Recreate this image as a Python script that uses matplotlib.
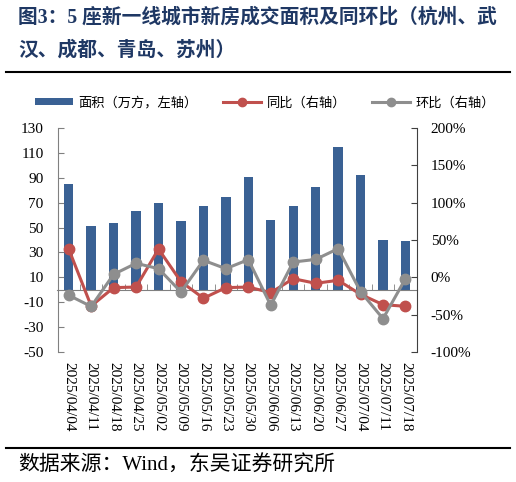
import matplotlib
matplotlib.use("Agg")
import matplotlib.pyplot as plt
from matplotlib.ticker import FuncFormatter, FixedLocator
from matplotlib.lines import Line2D
from matplotlib.patches import Patch

plt.rcParams['font.family'] = ['Liberation Serif', 'Noto Sans CJK SC', 'DejaVu Sans']

dates = ["2025/04/04", "2025/04/11", "2025/04/18", "2025/04/25", "2025/05/02",
         "2025/05/09", "2025/05/16", "2025/05/23", "2025/05/30", "2025/06/06",
         "2025/06/13", "2025/06/20", "2025/06/27", "2025/07/04", "2025/07/11",
         "2025/07/18"]
area = [85.2, 51.4, 53.3, 63.0, 69.7, 54.9, 67.0, 74.2, 91.0, 56.0,
        67.2, 82.8, 114.4, 91.9, 40.2, 39.1]
yoy = [37.9, -38.4, -13.8, -13.0, 37.9, -5.8, -28.0, -13.8, -13.0, -20.5,
       -1.8, -8.0, -4.0, -22.8, -36.6, -38.8]
mom = [-24.0, -39.0, 4.0, 18.8, 11.6, -19.6, 22.8, 11.6, 23.7, -37.5,
       20.5, 24.0, 38.4, -19.2, -55.4, -1.8]
left_ticks = list(range(-50, 131, 20))
right_ticks = [-100, -50, 0, 50, 100, 150, 200]

bar_color = "#3A6194"
red = "#C0504D"
gray = "#8E8E8E"

W, H = 516, 482
fig = plt.figure(figsize=(W / 100, H / 100), dpi=100)
ax = fig.add_axes([57.5 / W, 1 - 352 / H, (416.7 - 57.5) / W, 224 / H])
ax2 = ax.twinx()

# spine position first (it resets ticks)
ax.spines['bottom'].set_position(('data', 0))
ax.spines['bottom'].set_color('#808080')
ax.spines['left'].set_color('#808080')
ax.spines['top'].set_visible(False)
ax.spines['right'].set_visible(False)

x = list(range(len(dates)))
ax.bar(x, area, width=0.42, color=bar_color, zorder=2)
ax.set_xlim(-0.5, len(dates) - 0.5)
ax.set_ylim(-50, 130)
ax.set_yticks(left_ticks)
ax.set_yticklabels([str(v) for v in left_ticks], fontsize=11)
ax.set_xticks(x)
ax.set_xticklabels(dates, fontsize=11)
ax.xaxis.set_minor_locator(FixedLocator([i + 0.5 for i in range(len(dates) - 1)]))
ax.tick_params(axis='x', which='major', length=0, pad=52, labelrotation=270)
for lbl in ax.get_xticklabels():
    lbl.set_va('top')
    lbl.set_ha('center')
ax.tick_params(axis='x', which='minor', length=4, direction='in', color='#808080')
ax.tick_params(axis='y', length=4.5, direction='in', color='#808080', pad=10)

ax2.plot(x, yoy, color=red, lw=2.2, marker='o', markersize=7.5, zorder=3)
ax2.plot(x, mom, color=gray, lw=2.2, marker='o', markersize=7.5, zorder=3)
ax2.set_ylim(-100, 200)
ax2.set_yticks(right_ticks)
ax2.yaxis.set_major_formatter(FuncFormatter(lambda v, p: f"{int(v)}%"))
ax2.tick_params(axis='y', length=4.5, direction='in', labelsize=11, pad=10, color='#404040')
for s in ['top', 'left', 'bottom']:
    ax2.spines[s].set_visible(False)
ax2.spines['right'].set_color('#404040')

# legend
handles = [Patch(facecolor=bar_color, edgecolor='none'),
           Line2D([], [], color=red, lw=2.2, marker='o', markersize=6),
           Line2D([], [], color=gray, lw=2.2, marker='o', markersize=6)]
labels = ["面积（万方，左轴）", "同比（右轴）", "环比（右轴）"]
fig.legend(handles, labels, loc='center', bbox_to_anchor=(265 / W, 1 - 103 / H),
           ncol=3, frameon=False, prop={'family': ['Noto Sans CJK SC'], 'size': 9.5},
           handlelength=2.9, handleheight=0.45, columnspacing=1.9, handletextpad=0.45)

# title
title_kw = dict(color='#1F3864', fontsize=14.2, fontweight='bold',
                family=['Liberation Serif', 'Noto Sans CJK SC'])
fig.text(18 / W, 1 - 17 / H, "图3：5 座新一线城市新房成交面积及同环比（杭州、武", ha='left', va='center', **title_kw)
fig.text(18 / W, 1 - 51 / H, "汉、成都、青岛、苏州）", ha='left', va='center', **title_kw)
fig.add_artist(Line2D([6 / W, 510 / W], [1 - 72 / H, 1 - 72 / H], color='black', lw=1.5))
fig.add_artist(Line2D([6 / W, 510 / W], [1 - 448 / H, 1 - 448 / H], color='black', lw=1.5))
fig.text(18 / W, 1 - 466 / H, "数据来源：Wind，东吴证券研究所", ha='left', va='center',
         fontsize=15, family=['Liberation Serif', 'Noto Sans CJK SC'], color='black')

fig.savefig("out.png", dpi=100)
